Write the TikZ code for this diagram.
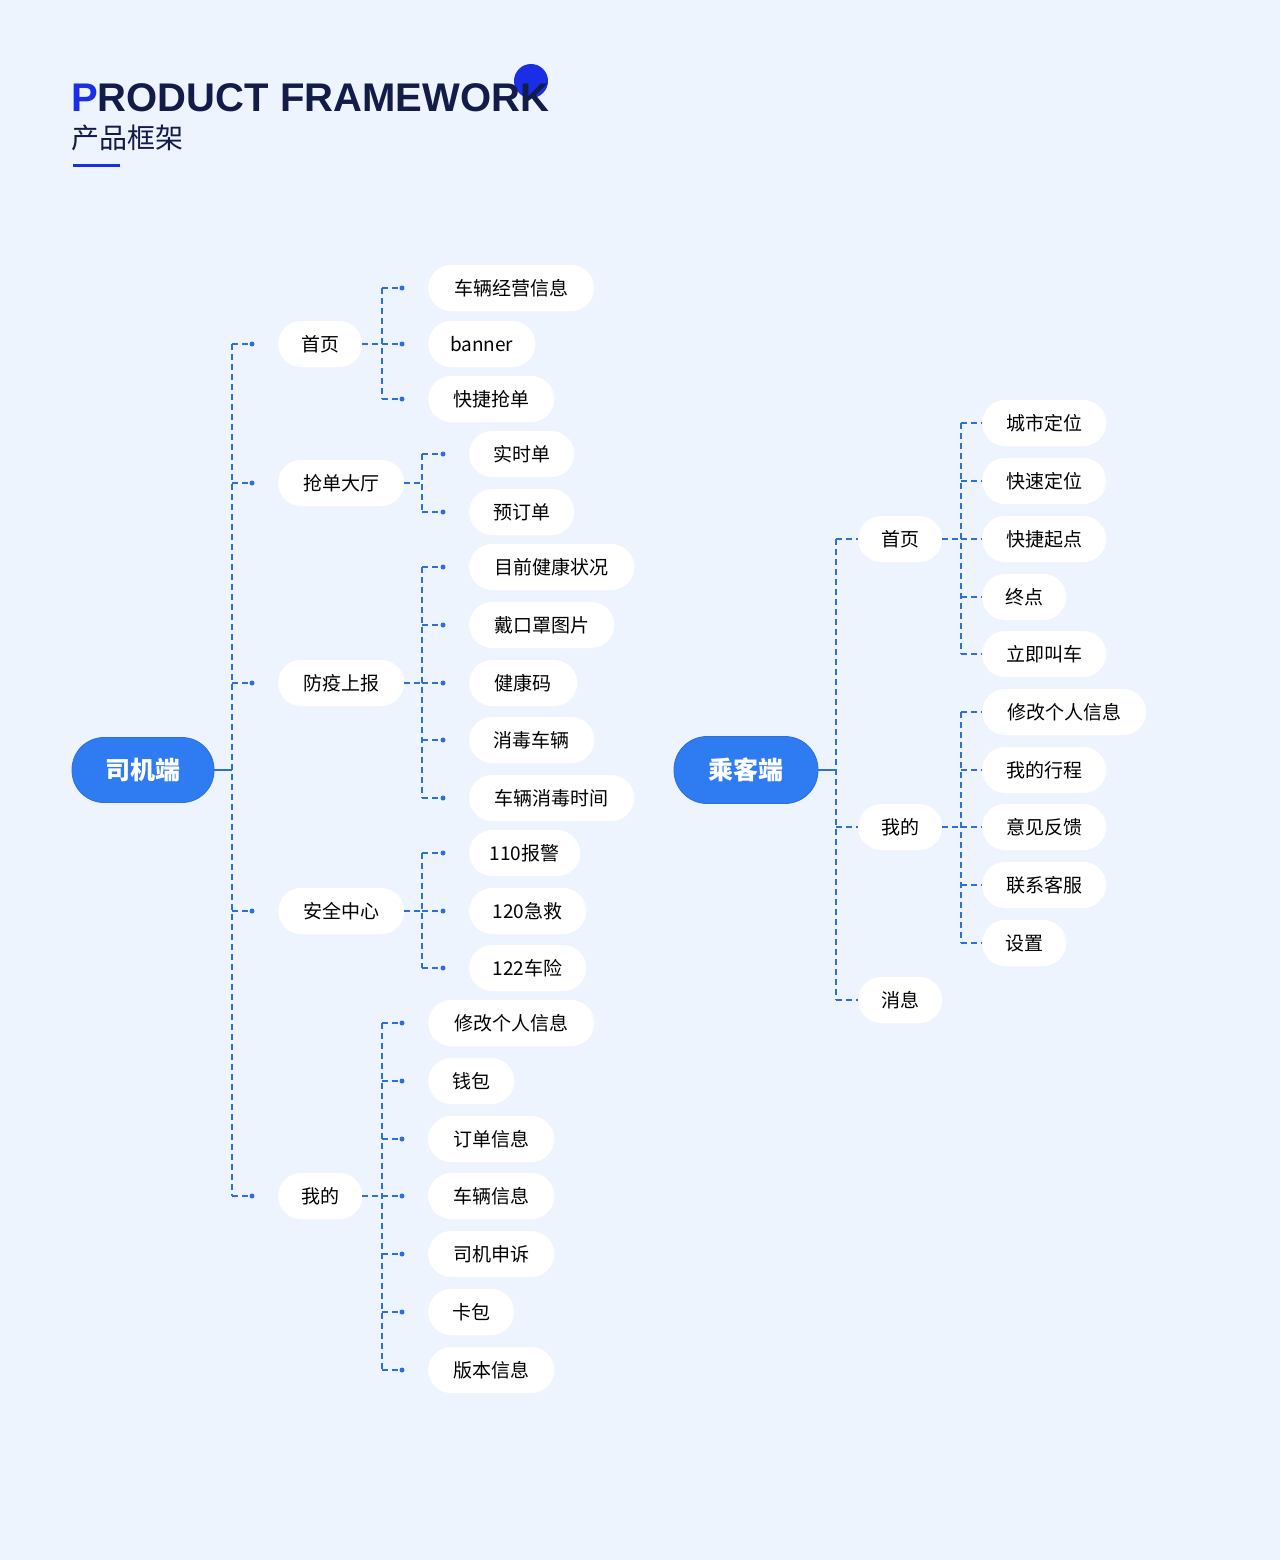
\documentclass[tikz,border=0pt]{standalone}
\usepackage{fontspec}
\setmainfont{Noto Sans CJK SC}
\newfontfamily\titlefont{Liberation Sans}
\usetikzlibrary{calc}
\definecolor{bg}{HTML}{EEF4FE}
\definecolor{ln}{HTML}{2E6FD8}
\definecolor{rootc}{HTML}{2F7CF2}
\definecolor{navy}{HTML}{131B48}
\definecolor{tblue}{HTML}{1A2EE6}
\tikzset{
  leaf/.style={fill=white, rounded corners=23pt, minimum height=46pt, anchor=west, inner sep=0pt, font=\fontsize{19}{19}\selectfont, text=black},
  rootn/.style={fill=rootc, draw=ln, line width=0.8pt, rounded corners=32pt, minimum height=65pt, inner sep=0pt, text=white, font=\fontsize{25}{25}\selectfont\bfseries},
  dl/.style={draw=ln, line width=1.2pt, dash pattern=on 6pt off 4pt},
  sl/.style={draw=ln, line width=1.2pt},
  dot/.style={circle, fill=ln, inner sep=0pt, minimum size=5pt}
}
\begin{document}
\begin{tikzpicture}[x=1pt,y=-1pt]
\fill[bg] (0,0) rectangle (1280,1560);
\useasboundingbox (0,0) rectangle (1280,1560);
% title
\fill[tblue] (531,81) circle (17);
\node[anchor=base west, inner sep=0pt, font=\titlefont\fontsize{40}{40}\selectfont\bfseries, text=navy] (title) at (71,112) {\textcolor{tblue}{P}RODUCT FRAMEWORK};
\node[anchor=base west, inner sep=0pt, font=\fontsize{28}{28}\selectfont, text=navy] (sub) at (71,148) {产品框架};
\draw[tblue, line width=3pt] (73,165) -- (120,165);

% ---------- left tree
\node[rootn, minimum width=142pt] (L) at (143,770) {司机端};
\node[leaf, minimum width=84pt] (a1) at (278,344) {首页};
\node[leaf, minimum width=126pt] (a2) at (278,483) {抢单大厅};
\node[leaf, minimum width=126pt] (a3) at (278,683) {防疫上报};
\node[leaf, minimum width=126pt] (a4) at (278,911) {安全中心};
\node[leaf, minimum width=84pt] (a5) at (278,1196) {我的};
\coordinate (LT) at (232,770);
\draw[sl] (L.east) -- (LT);
\draw[dl] (LT |- a1) -- (LT |- a5);
\foreach \n in {a1,a2,a3,a4,a5}{
  \draw[dl] (LT |- \n) -- ([xshift=-26pt]\n.west) node[dot]{};
}
% groups
\newcommand\grp[3]{% parent, junction x, list of children
  \draw[dl] (#1.east) -- (#2,0 |- #1) coordinate (J#1);
  \foreach \c [count=\i] in {#3}{
    \draw[dl] (J#1 |- \c) -- ([xshift=-26pt]\c.west) node[dot]{};
  }
}
\node[leaf, minimum width=166pt] (b1) at (428,288) {车辆经营信息};
\node[leaf, minimum width=107pt] (b2) at (428,344) {banner};
\node[leaf, minimum width=126pt] (b3) at (428,399) {快捷抢单};
\grp{a1}{382}{b1,b2,b3}
\draw[dl] (Ja1 |- b1) -- (Ja1 |- b3);

\node[leaf, minimum width=105pt] (c1) at (469,454) {实时单};
\node[leaf, minimum width=105pt] (c2) at (469,512) {预订单};
\grp{a2}{422}{c1,c2}
\draw[dl] (Ja2 |- c1) -- (Ja2 |- c2);

\node[leaf, minimum width=165pt] (d1) at (469,567) {目前健康状况};
\node[leaf, minimum width=145pt] (d2) at (469,625) {戴口罩图片};
\node[leaf, minimum width=108pt] (d3) at (469,683) {健康码};
\node[leaf, minimum width=125pt] (d4) at (469,740) {消毒车辆};
\node[leaf, minimum width=165pt] (d5) at (469,798) {车辆消毒时间};
\grp{a3}{422}{d1,d2,d3,d4,d5}
\draw[dl] (Ja3 |- d1) -- (Ja3 |- d5);

\node[leaf, minimum width=111pt] (e1) at (469,853) {110报警};
\node[leaf, minimum width=117pt] (e2) at (469,911) {120急救};
\node[leaf, minimum width=117pt] (e3) at (469,968) {122车险};
\grp{a4}{422}{e1,e2,e3}
\draw[dl] (Ja4 |- e1) -- (Ja4 |- e3);

\node[leaf, minimum width=166pt] (f1) at (428,1023) {修改个人信息};
\node[leaf, minimum width=86pt] (f2) at (428,1081) {钱包};
\node[leaf, minimum width=126pt] (f3) at (428,1139) {订单信息};
\node[leaf, minimum width=126pt] (f4) at (428,1196) {车辆信息};
\node[leaf, minimum width=126pt] (f5) at (428,1254) {司机申诉};
\node[leaf, minimum width=86pt] (f6) at (428,1312) {卡包};
\node[leaf, minimum width=126pt] (f7) at (428,1370) {版本信息};
\grp{a5}{382}{f1,f2,f3,f4,f5,f6,f7}
\draw[dl] (Ja5 |- f1) -- (Ja5 |- f7);

% ---------- right tree
\node[rootn, minimum width=144pt, minimum height=67pt, rounded corners=33pt] (R) at (746,770) {乘客端};
\node[leaf, minimum width=84pt] (p1) at (858,539) {首页};
\node[leaf, minimum width=84pt] (p2) at (858,827) {我的};
\node[leaf, minimum width=84pt] (p3) at (858,1000) {消息};
\coordinate (RT) at (836,770);
\draw[sl] (R.east) -- (RT);
\draw[dl] (RT |- p1) -- (RT |- p3);
\foreach \n in {p1,p2,p3}{ \draw[dl] (RT |- \n) -- (\n.west); }

\newcommand\rgrp[3]{%
  \draw[dl] (#1.east) -- (#2,0 |- #1) coordinate (J#1);
  \foreach \c in {#3}{ \draw[dl] (J#1 |- \c) -- (\c.west); }
}
\node[leaf, minimum width=124pt] (q1) at (982,423) {城市定位};
\node[leaf, minimum width=124pt] (q2) at (982,481) {快速定位};
\node[leaf, minimum width=124pt] (q3) at (982,539) {快捷起点};
\node[leaf, minimum width=84pt] (q4) at (982,597) {终点};
\node[leaf, minimum width=124pt] (q5) at (982,654) {立即叫车};
\rgrp{p1}{961}{q1,q2,q3,q4,q5}
\draw[dl] (Jp1 |- q1) -- (Jp1 |- q5);

\node[leaf, minimum width=164pt] (r1) at (982,712) {修改个人信息};
\node[leaf, minimum width=124pt] (r2) at (982,770) {我的行程};
\node[leaf, minimum width=124pt] (r3) at (982,827) {意见反馈};
\node[leaf, minimum width=124pt] (r4) at (982,885) {联系客服};
\node[leaf, minimum width=84pt] (r5) at (982,943) {设置};
\rgrp{p2}{961}{r1,r2,r3,r4,r5}
\draw[dl] (Jp2 |- r1) -- (Jp2 |- r5);
\end{tikzpicture}
\end{document}
